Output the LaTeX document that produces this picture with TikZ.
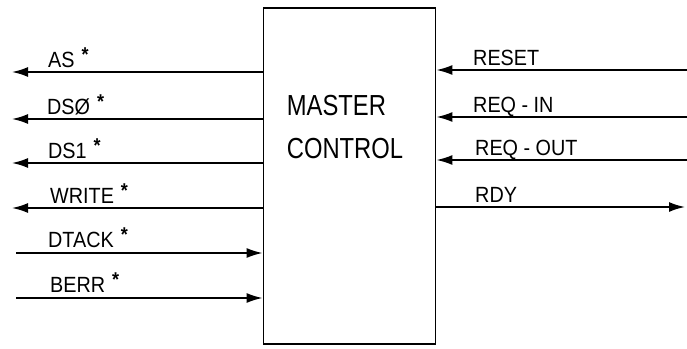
\documentclass[tikz,border=0pt]{standalone}
\usepackage{fontspec}
\setmainfont{Liberation Sans}
\newfontfamily\dinfont[FakeStretch=0.9]{Liberation Sans}
\newfontfamily\boxfont[FakeStretch=0.82]{Liberation Sans}
\usetikzlibrary{arrows.meta,positioning}
\newcommand{\act}[1]{#1\hspace{7pt}\raisebox{6pt}{\fontsize{20}{20}\selectfont\bfseries *}}
\tikzset{
  block/.style={draw, line width=1.8pt, minimum width=172pt, minimum height=336pt, inner sep=0pt},
  title/.style={font=\boxfont\fontsize{29}{43}\selectfont, align=left, inner sep=0pt},
  lbl/.style={font=\dinfont\fontsize{22}{22}\selectfont, inner sep=0pt, anchor=base west},
  sig/.style={line width=1.8pt, -{Latex[length=16pt,width=10pt]}}
}
\begin{document}
\begin{tikzpicture}[x=1pt,y=-1pt]
  \useasboundingbox (0,0) rectangle (687,348);
  \node[block] (mc) at (349.5,176) {};
  \node[title] (name) at (345,127) {MASTER\\CONTROL};

  % outputs to the left
  \coordinate (as) at (12,72);
  \coordinate (dszero) at (12,119);
  \coordinate (dsone) at (12,163);
  \coordinate (write) at (12,208);
  \draw[sig] (mc.west |- as) -- (as);
  \draw[sig] (mc.west |- dszero) -- (dszero);
  \draw[sig] (mc.west |- dsone) -- (dsone);
  \draw[sig] (mc.west |- write) -- (write);
  \node[lbl] (aslbl) at (48,67) {\act{AS}};
  \node[lbl] (dszerolbl) at (47,114) {\act{DSØ}};
  \node[lbl] (dsonelbl) at (48,158) {\act{DS1}};
  \node[lbl] (writelbl) at (50,203) {\act{WRITE}};

  % inputs from the left
  \coordinate (dtack) at (16,253);
  \coordinate (berr) at (16,298);
  \draw[sig] (dtack) -- (mc.west |- dtack);
  \draw[sig] (berr) -- (mc.west |- berr);
  \node[lbl] (dtacklbl) at (48,247) {\act{DTACK}};
  \node[lbl] (berrlbl) at (50,292) {\act{BERR}};

  % right side
  \coordinate (reset) at (687,70);
  \coordinate (reqin) at (687,117);
  \coordinate (reqout) at (687,160);
  \coordinate (rdy) at (685,207);
  \draw[sig] (reset) -- (mc.east |- reset);
  \draw[sig] (reqin) -- (mc.east |- reqin);
  \draw[sig] (reqout) -- (mc.east |- reqout);
  \draw[sig] (mc.east |- rdy) -- (rdy);
  \node[lbl] (resetlbl) at (473,65) {RESET};
  \node[lbl] (reqinlbl) at (473,112) {REQ - IN};
  \node[lbl] (reqoutlbl) at (475,155) {REQ - OUT};
  \node[lbl] (rdylbl) at (475,202) {RDY};
\end{tikzpicture}
\end{document}
